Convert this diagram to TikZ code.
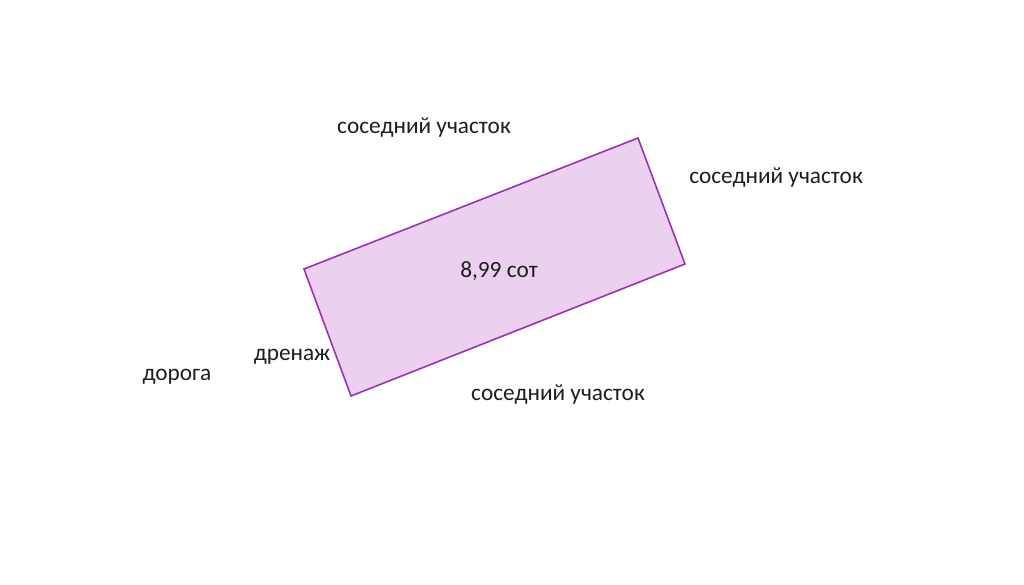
\documentclass[tikz,border=0pt]{standalone}
\usepackage{fontspec}
\setmainfont{Carlito}
\definecolor{plotfill}{HTML}{EBD0EF}
\definecolor{plotline}{HTML}{9B32B4}
\definecolor{labeltext}{HTML}{1E1E1E}
\tikzset{
	lbl/.style={text=labeltext, font=\fontsize{23.3}{26}\selectfont, inner sep=0pt},
	plot/.style={draw=plotline, fill=plotfill, line width=1.6pt, line join=miter}
}
\begin{document}
\begin{tikzpicture}[x=1pt,y=-1pt]
	\useasboundingbox (0,0) rectangle (1024,584);
	% corners of the plot
	\coordinate (a) at (304,269);
	\coordinate (b) at (638,138);
	\coordinate (c) at (685,264);
	\coordinate (d) at (351,396);
	\draw[plot] (a) -- (b) -- (c) -- (d) -- cycle;
	
	% labels
	\node[lbl] (area) at (499,271) {8,99 сот};
	\node[lbl] (top) at (424,128) {соседний участок};
	\node[lbl] (right) at (776,178) {соседний участок};
	\node[lbl] (bottom) at (558,395) {соседний участок};
	\node[lbl] (drain) at (292,357) {дренаж};
	\node[lbl] (road) at (177,377) {дорога};
\end{tikzpicture}
\end{document}
